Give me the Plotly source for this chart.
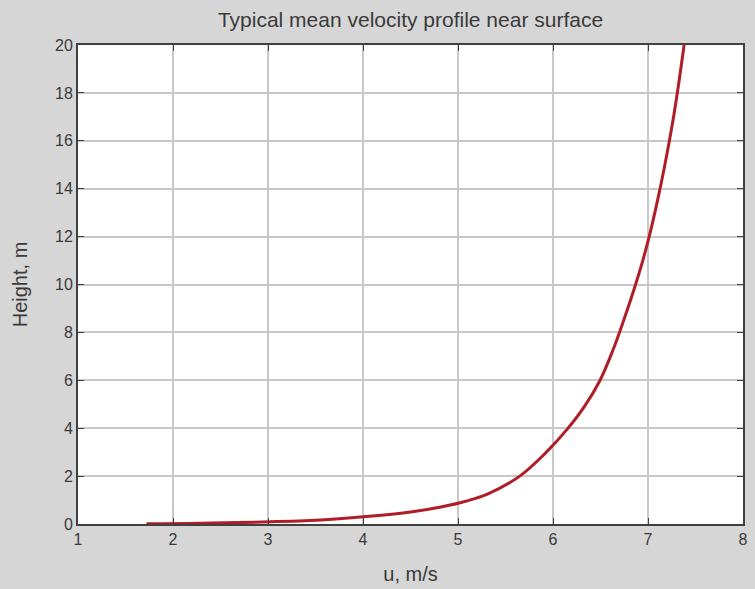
import plotly.graph_objects as go

# Values
u_speed = [1.72, 2.30, 3.10, 3.60, 4.10, 4.50, 4.82, 5.08, 5.31, 5.65, 5.93, 6.15,
           6.33, 6.49, 6.625, 6.735, 6.845, 6.945, 7.025, 7.10, 7.168, 7.265, 7.318, 7.38]
height = [0.01, 0.03, 0.10, 0.18, 0.33, 0.50, 0.71, 0.95, 1.25, 2.00, 3.00, 3.96,
          4.90, 5.96, 7.20, 8.40, 9.70, 11.0, 12.2, 13.5, 14.8, 16.9, 18.25, 20.0]
x_ticks = [1, 2, 3, 4, 5, 6, 7, 8]
y_ticks = [0, 2, 4, 6, 8, 10, 12, 14, 16, 18, 20]

FONT = "Liberation Sans, Arial, Helvetica, sans-serif"
TXT = "#3a3a3a"

fig = go.Figure()
fig.add_trace(go.Scatter(
    x=u_speed, y=height, mode="lines", line=dict(color="rgb(175,30,40)", width=3),
    line_shape="spline", showlegend=False,
))

axis_common = dict(
    showline=True, linecolor="#404040", linewidth=2, mirror="allticks",
    ticks="inside", ticklen=6, tickcolor="#404040",
    showgrid=True, gridcolor="#c8c8c8", gridwidth=1.5,
    zeroline=False, tickfont=dict(family=FONT, size=16, color=TXT),
)

fig.update_layout(
    width=755, height=589,
    margin=dict(l=78, r=7, t=45, b=64),
    paper_bgcolor="#d6d6d6", plot_bgcolor="white",
    title=dict(text="Typical mean velocity profile near surface",
               x=0.5, xref="paper", xanchor="center",
               y=1 - 20 / 589, yref="container", yanchor="middle",
               font=dict(family=FONT, size=21, color=TXT)),
    xaxis=dict(range=[1, 8], tickvals=x_ticks,
               title=dict(text="u, m/s", standoff=20,
                          font=dict(family=FONT, size=20, color=TXT)),
               **axis_common),
    yaxis=dict(range=[0, 20], tickvals=y_ticks,
               title=dict(text="Height, m", standoff=22,
                          font=dict(family=FONT, size=20, color=TXT)),
               **axis_common),
)

fig.write_html("out.html")
